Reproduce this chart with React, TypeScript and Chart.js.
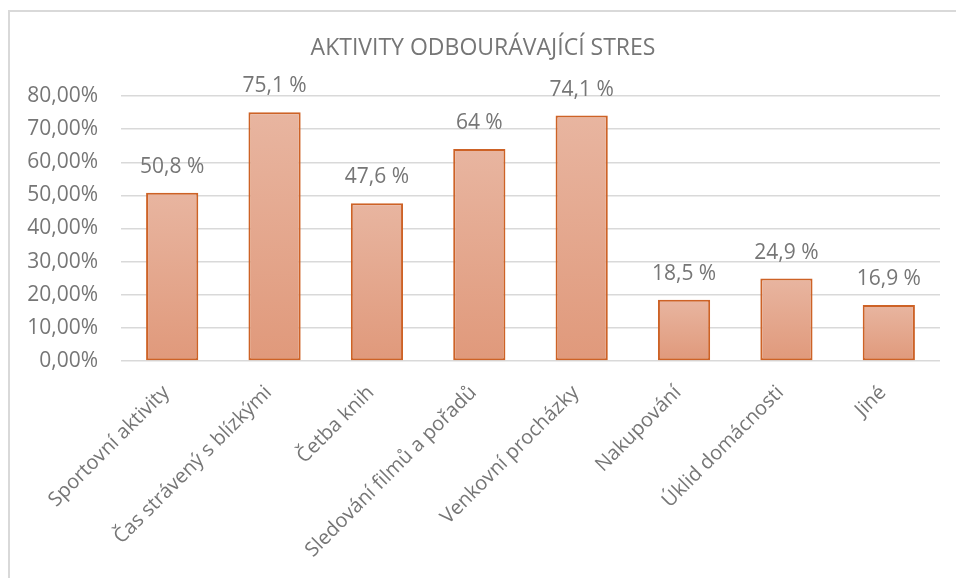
import React, { useEffect, useRef } from "react";
import { Chart, registerables } from "chart.js";

Chart.register(...registerables);

const TITLE = "AKTIVITY ODBOURÁVAJÍCÍ STRES";
const categories = [
  "Sportovní aktivity",
  "Čas strávený s blízkými",
  "Četba knih",
  "Sledování filmů a pořadů",
  "Venkovní procházky",
  "Nakupování",
  "Úklid domácnosti",
  "Jiné",
];
const values = [50.8, 75.1, 47.6, 64, 74.1, 18.5, 24.9, 16.9];
const valueLabels = ["50,8 %", "75,1 %", "47,6 %", "64 %", "74,1 %", "18,5 %", "24,9 %", "16,9 %"];
const yMin = 0;
const yMax = 80;
const yStep = 10;

const FONT = "'Open Sans', 'Noto Sans', sans-serif";
const TEXT = "#767676";

export default function App() {
  const ref = useRef<HTMLCanvasElement | null>(null);

  useEffect(() => {
    const canvas = ref.current;
    if (!canvas) return;

    const framePlugin = {
      id: "frame",
      beforeDraw(chart: any) {
        const c = chart.ctx;
        c.save();
        c.fillStyle = "#ffffff";
        c.fillRect(0, 0, chart.width, chart.height);
        c.strokeStyle = "#d9d9d9";
        c.lineWidth = 2;
        c.beginPath();
        c.moveTo(9, chart.height + 5);
        c.lineTo(9, 11);
        c.lineTo(chart.width + 5, 11);
        c.stroke();
        // title
        c.fillStyle = TEXT;
        c.font = `23px ${FONT}`;
        c.textAlign = "center";
        c.textBaseline = "middle";
        c.fillText(TITLE, 483, 48);
        c.restore();
      },
    };

    const labelPlugin = {
      id: "valueLabels",
      afterDatasetsDraw(chart: any) {
        const c = chart.ctx;
        const meta = chart.getDatasetMeta(0);
        c.save();
        c.fillStyle = TEXT;
        c.font = `21px ${FONT}`;
        c.textAlign = "center";
        c.textBaseline = "middle";
        meta.data.forEach((el: any, i: number) => {
          c.fillText(valueLabels[i], el.x, el.y - 26);
        });
        c.restore();
      },
    };

    const chart = new Chart(canvas, {
      type: "bar",
      data: {
        labels: categories,
        datasets: [
          {
            data: values,
            backgroundColor: (ctx: any) => {
              const ch = ctx.chart;
              const ys = ch.scales && ch.scales.y;
              if (!ys || ctx.raw == null) return "#e4a88c";
              const top = ys.getPixelForValue(ctx.raw);
              const bottom = ys.getPixelForValue(0);
              if (!isFinite(top) || !isFinite(bottom) || top === bottom) return "#e4a88c";
              const g = ch.ctx.createLinearGradient(0, top, 0, bottom);
              g.addColorStop(0, "#e8b5a0");
              g.addColorStop(1, "#e0997b");
              return g;
            },
            borderColor: "#cd6226",
            borderWidth: 2,
            borderSkipped: false,
            barPercentage: 0.51,
            categoryPercentage: 1,
          },
        ],
      },
      options: {
        responsive: false,
        animation: false,
        devicePixelRatio: 1,
        layout: { padding: { left: 0, right: 16, top: 96, bottom: 0 } },
        plugins: {
          legend: { display: false },
          title: { display: false },
          tooltip: { enabled: false },
        },
        scales: {
          x: {
            offset: true,
            grid: { display: false, drawTicks: false },
            border: { display: false },
            ticks: {
              autoSkip: false,
              minRotation: 45,
              maxRotation: 45,
              padding: 20,
              labelOffset: -6,
              color: TEXT,
              font: { family: FONT, size: 20 },
            },
            afterFit(scale: any) {
              scale.height = 217;
            },
          },
          y: {
            min: yMin,
            max: yMax,
            grid: { color: "#d9d9d9", lineWidth: 1.5, drawTicks: false },
            border: { display: false },
            ticks: {
              stepSize: yStep,
              padding: 23,
              color: TEXT,
              font: { family: FONT, size: 21 },
              callback: (v: any) => Number(v).toFixed(2).replace(".", ",") + "%",
            },
            afterFit(scale: any) {
              scale.width = 121;
            },
          },
        },
      },
      plugins: [framePlugin, labelPlugin],
    });

    return () => chart.destroy();
  }, []);

  return (
    <div style={{ position: "fixed", left: 0, top: 0, width: 956, height: 578, overflow: "hidden", background: "#fff" }}>
      <canvas ref={ref} width={956} height={578} style={{ width: 956, height: 578, display: "block" }} />
    </div>
  );
}
